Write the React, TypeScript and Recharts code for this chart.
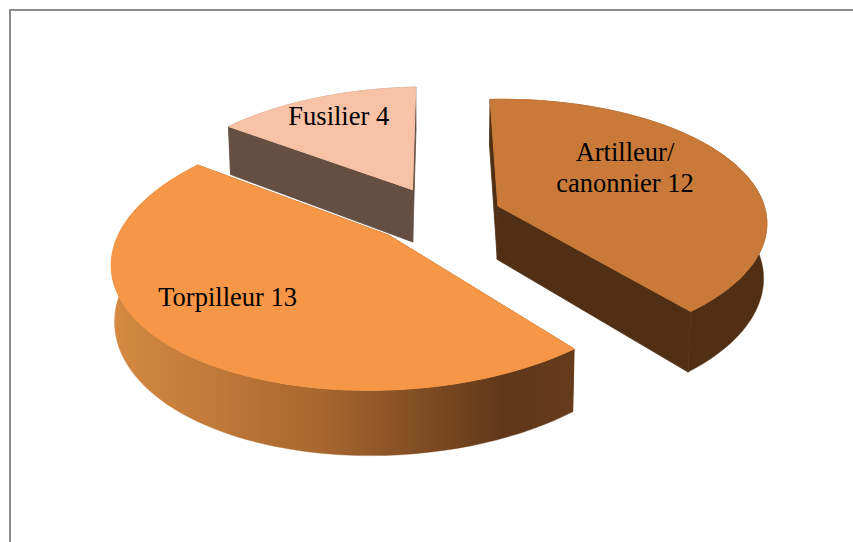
import { PieChart, Pie } from 'recharts';

const categories = ['Artilleur/\ncanonnier', 'Torpilleur', 'Fusilier'];
const counts = [12, 13, 4];

const topColors = ['#c97a38', '#f59746', '#f7c2a5'];
const edgeColors = ['#512f14', '#643a1c', '#654e42'];
const labelAngles = [33.6, 219.8, 113.7];
const labelReach = [0.62, 0.7, 0.76];

const tableData = categories.map((name, i) => ({ name, value: counts[i], fill: topColors[i] }));

const RADIUS = 267;
const FLATTEN = 125;
const PERSPECTIVE = 0.15;
const EXPLODE = 0.235;
const DEPTH = 54;
const DEPTH_SHRINK = 0.99;
const FRONT_WARP = 8;
const BACK_WARP = 2;
const LEAN = 0.02;
const RAD = Math.PI / 180;

type Pt = { x: number; y: number };

// the reference camera pulls the pie round a little at front right and back left
const warp = (angle: number) => {
  const a = ((angle % 360) + 360) % 360;
  if (a > 270) return angle + FRONT_WARP * Math.sin(2 * (a - 270) * RAD);
  if (a > 90 && a < 180) return angle + BACK_WARP * Math.sin(2 * (a - 90) * RAD);
  return angle;
};

// common perspective for the whole pie, exploded slices included
const project = (cx: number, cy: number, mid: number, angle: number, r: number, down = false): Pt => {
  const a = warp(angle) * RAD;
  const wx = EXPLODE * Math.cos(mid * RAD) + r * Math.cos(a);
  const wy = EXPLODE * Math.sin(mid * RAD) + r * Math.sin(a);
  const s = 1 / (1 + PERSPECTIVE * wy);
  const x = RADIUS * wx * s;
  const y = -FLATTEN * wy * s;
  return down
    ? { x: cx + x * DEPTH_SHRINK, y: cy + y + DEPTH * s }
    : { x: cx + x, y: cy + y };
};

// slight roll of the whole pie, right side up
const lean = (p: Pt, cx: number): Pt => ({ x: p.x, y: p.y - LEAN * (p.x - cx) });

const toPath = (pts: Pt[]) =>
  pts.map((p, i) => `${i ? 'L' : 'M'}${p.x.toFixed(1)},${p.y.toFixed(1)}`).join(' ') + ' Z';

function Slice3D(props: any) {
  const { cx, cy, startAngle, endAngle, midAngle, fill, name } = props;
  const i = categories.indexOf(name);
  const angles: number[] = [];
  for (let k = 0; k <= 80; k++) angles.push(startAngle + ((endAngle - startAngle) * k) / 80);
  const rim = angles.map((a) => lean(project(cx, cy, midAngle, a, 1), cx));
  const rimDown = angles.map((a) => lean(project(cx, cy, midAngle, a, 1, true), cx));
  const apex = lean(project(cx, cy, midAngle, 0, 0), cx);
  const apexDown = lean(project(cx, cy, midAngle, 0, 0, true), cx);
  const gradId = `wall-${i}`;
  const wallFill = i === 1 ? `url(#${gradId})` : edgeColors[i];

  return (
    <g>
      <defs>
        <linearGradient id={gradId} x1="0" y1="0" x2="1" y2="0">
          <stop offset="0" stopColor="#d68a42" />
          <stop offset="0.45" stopColor="#a8672f" />
          <stop offset="0.85" stopColor="#603719" />
          <stop offset="1" stopColor="#663b1c" />
        </linearGradient>
      </defs>
      <path d={toPath([apex, rim[0], rimDown[0], apexDown])} fill={edgeColors[i]} stroke={edgeColors[i]} strokeWidth={0.8} />
      <path d={toPath([apex, rim[80], rimDown[80], apexDown])} fill={edgeColors[i]} stroke={edgeColors[i]} strokeWidth={0.8} />
      <path d={toPath([...rim, ...[...rimDown].reverse()])} fill={wallFill} stroke={wallFill} strokeWidth={0.4} />
      <path d={toPath([apex, ...rim])} fill={fill} stroke={fill} strokeWidth={1} />
    </g>
  );
}

function SliceLabel(props: any) {
  const { cx, cy, midAngle, name, value } = props;
  const i = categories.indexOf(name);
  const p = project(cx, cy, midAngle, labelAngles[i], labelReach[i]);
  const lines = `${name} ${value}`.split('\n');
  const lineHeight = 31;
  const top = p.y - ((lines.length - 1) * lineHeight) / 2;
  return (
    <text textAnchor="middle" fontFamily="'Liberation Serif', serif" fontSize={26.5} fill="#000000">
      {lines.map((line, k) => (
        <tspan key={k} x={p.x} y={top + k * lineHeight + 9}>
          {line}
        </tspan>
      ))}
    </text>
  );
}

export default function App() {
  return (
    <div style={{ position: 'absolute', left: 0, top: 0, width: 853, height: 542, background: '#ffffff', overflow: 'hidden' }}>
      <div
        style={{
          position: 'absolute',
          left: 9,
          top: 9,
          width: 900,
          height: 600,
          border: '2px solid #8c8c8c',
          boxSizing: 'border-box',
        }}
      />
      <div style={{ position: 'absolute', left: 0, top: 0 }}>
        <PieChart width={853} height={542} margin={{ top: 0, right: 0, bottom: 0, left: 0 }}>
          <Pie
            data={tableData}
            dataKey="value"
            nameKey="name"
            cx={438}
            cy={215}
            outerRadius={RADIUS}
            startAngle={90}
            endAngle={-270}
            stroke="none"
            shape={Slice3D}
            label={SliceLabel}
            labelLine={false}
            isAnimationActive={false}
          />
        </PieChart>
      </div>
    </div>
  );
}
